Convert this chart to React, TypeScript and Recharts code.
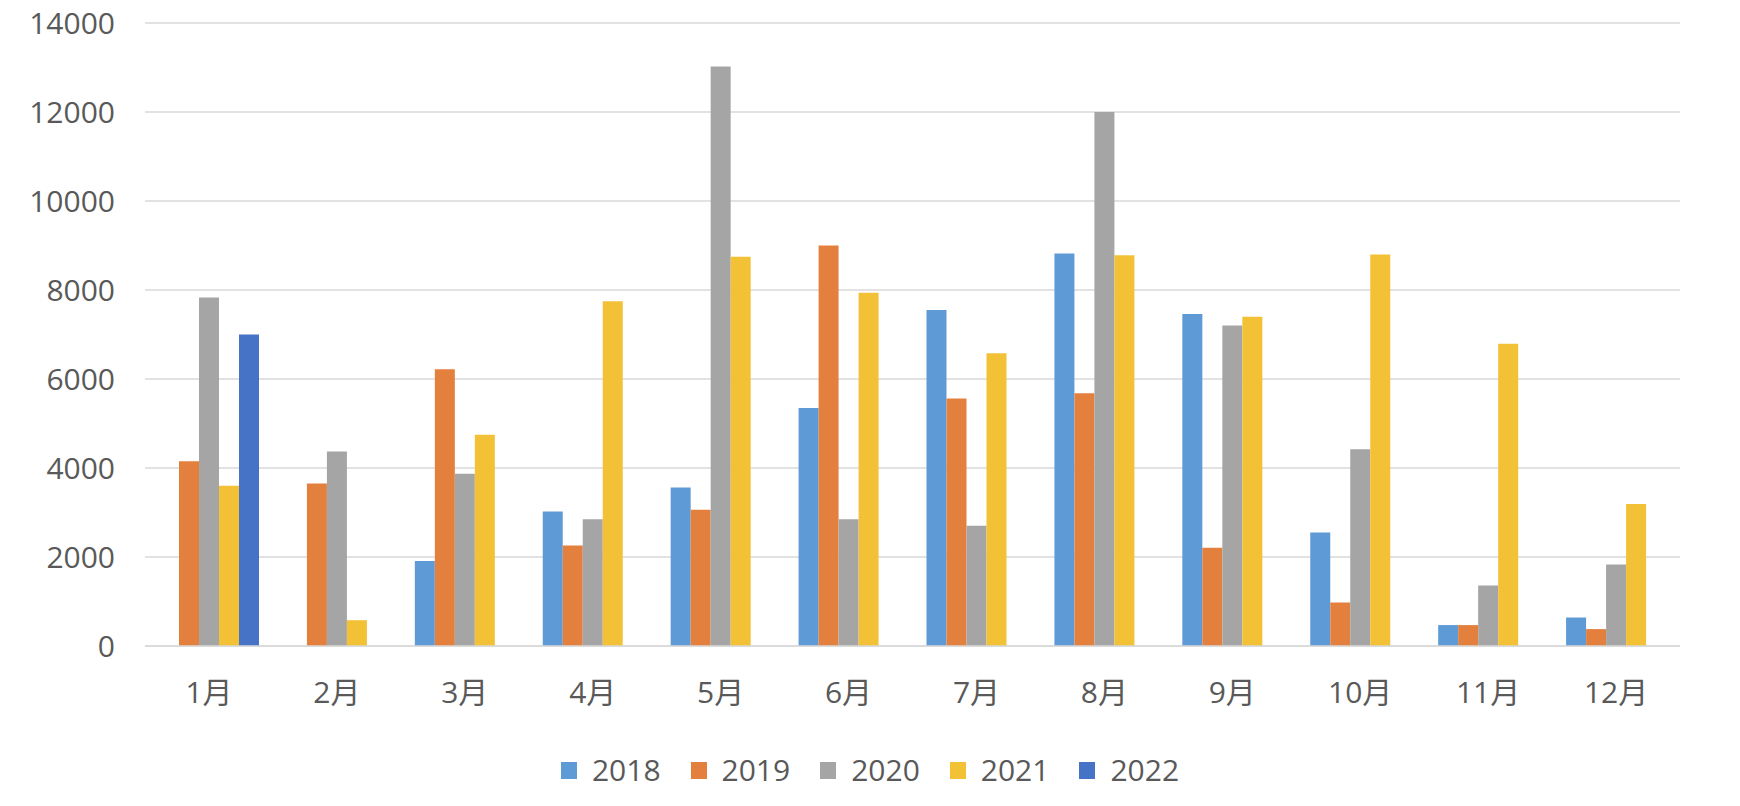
import React from 'react'
import { BarChart, Bar, XAxis, YAxis, CartesianGrid, Legend } from 'recharts'

const months = ['1月', '2月', '3月', '4月', '5月', '6月', '7月', '8月', '9月', '10月', '11月', '12月']
const y2018 = [null, null, 1910, 3020, 3560, 5350, 7550, 8820, 7460, 2550, 470, 640]
const y2019 = [4150, 3650, 6220, 2260, 3060, 9000, 5560, 5680, 2210, 980, 470, 380]
const y2020 = [7830, 4370, 3870, 2850, 13020, 2850, 2700, 12000, 7200, 4420, 1360, 1830]
const y2021 = [3600, 580, 4750, 7750, 8750, 7940, 6580, 8780, 7400, 8800, 6790, 3190]
const y2022 = [7000, null, null, null, null, null, null, null, null, null, null, null]
const yTicks = [0, 2000, 4000, 6000, 8000, 10000, 12000, 14000]

const series = [
  { key: '2018', color: '#5E9AD6' },
  { key: '2019', color: '#E4803D' },
  { key: '2020', color: '#A5A5A5' },
  { key: '2021', color: '#F3C136' },
  { key: '2022', color: '#4673C6' },
]

const data = months.map((m, i) => ({
  month: m,
  '2018': y2018[i],
  '2019': y2019[i],
  '2020': y2020[i],
  '2021': y2021[i],
  '2022': y2022[i],
}))

const font = '"Open Sans", "Noto Sans CJK SC", sans-serif'
const textColor = '#595959'

const LegendContent = (props: any) => {
  const items = props.payload || []
  return (
    <div style={{ display: 'flex', justifyContent: 'center', alignItems: 'center', height: 40 }}>
      {items.map((it: any, i: number) => (
        <div key={it.value} style={{ display: 'flex', alignItems: 'center', marginRight: i < items.length - 1 ? 30 : 0 }}>
          <div style={{ width: 16, height: 17, background: it.color, marginRight: 15 }} />
          <span style={{ fontFamily: font, fontSize: 30, color: textColor, lineHeight: '40px' }}>{it.value}</span>
        </div>
      ))}
    </div>
  )
}

const App: React.FC = () => {
  return (
    <div style={{ position: 'absolute', left: 0, top: 0, width: 1740, height: 806, background: '#fff' }}>
      <BarChart
        width={1740}
        height={806}
        data={data}
        margin={{ top: 23, right: 60, left: 0, bottom: 16 }}
        barCategoryGap={14}
        barGap={0}
      >
        <CartesianGrid vertical={false} stroke="#D9D9D9" strokeWidth={1.5} />
        <XAxis
          dataKey="month"
          height={104}
          tickLine={false}
          tickSize={0}
          tickMargin={36}
          axisLine={{ stroke: '#D9D9D9', strokeWidth: 1.5 }}
          tick={{ fill: textColor, fontSize: 30, fontFamily: font }}
          interval={0}
        />
        <YAxis
          width={145}
          domain={[0, 14000]}
          ticks={yTicks}
          axisLine={false}
          tickLine={false}
          tickSize={0}
          tickMargin={30}
          tick={{ fill: textColor, fontSize: 30, fontFamily: font }}
        />
        <Legend
          verticalAlign="bottom"
          height={40}
          content={<LegendContent />}
          wrapperStyle={{ left: 0, width: 1740, bottom: 16 }}
        />
        {series.map((s) => (
          <Bar key={s.key} dataKey={s.key} fill={s.color} isAnimationActive={false} />
        ))}
      </BarChart>
    </div>
  )
}

export default App
